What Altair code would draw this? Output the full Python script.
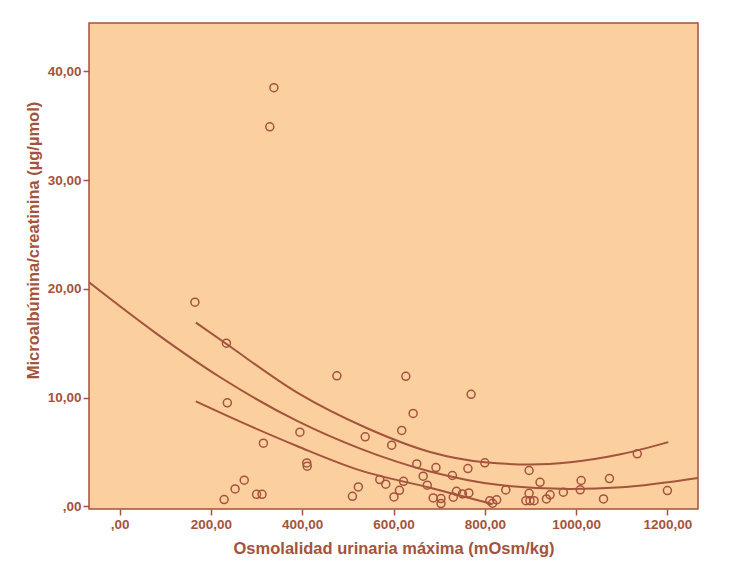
import altair as alt
import pandas as pd

BROWN = "#A4533C"
PEACH = "#FBCF9E"

# Scatter data
osm = [165, 234, 236, 315, 273, 253, 229, 300, 312, 329, 338, 395, 410, 411,
       476, 510, 523, 538, 570, 583, 596, 601, 613, 618, 622, 627, 643, 651,
       665, 674, 687, 693, 704, 704, 729, 731, 738, 751, 763, 765, 770, 800,
       811, 817, 826, 846, 890, 897, 897, 899, 908, 921, 935, 943, 972, 1009,
       1011, 1060, 1073, 1134, 1200]
mac = [18.77, 15.0, 9.52, 5.8, 2.4, 1.6, 0.62, 1.1, 1.1, 34.9, 38.5, 6.82, 3.99, 3.69,
       12.0, 0.92, 1.78, 6.39, 2.46, 2.03, 5.62, 0.86, 1.47, 6.98, 2.3, 11.95, 8.54, 3.9,
       2.77, 1.94, 0.77, 3.56, 0.71, 0.25, 2.83, 0.83, 1.38, 1.14, 3.47, 1.23, 10.3, 4.0,
       0.52, 0.28, 0.59, 1.5, 0.52, 3.29, 1.2, 0.52, 0.52, 2.2, 0.68, 1.05, 1.29, 1.51,
       2.37, 0.68, 2.55, 4.83, 1.45]

# Fitted curve and its two confidence lines
fit_x = [-67, 77, 223, 391, 527, 680, 833, 987, 1100, 1267]
fit_y = [20.6, 16.0, 11.8, 7.8, 5.3, 3.2, 1.95, 1.6, 1.75, 2.6]
up_x = [167, 235, 391, 541, 680, 800, 899, 987, 1100, 1202]
up_y = [16.9, 14.9, 10.4, 7.2, 5.0, 4.05, 3.85, 4.05, 4.8, 5.9]
lo_x = [167, 274, 391, 527, 680, 815]
lo_y = [9.65, 7.6, 5.5, 3.3, 1.7, 0.22]

x_ticks = [0, 200, 400, 600, 800, 1000, 1200]
y_ticks = [0, 10, 20, 30, 40]

pts = pd.DataFrame({"osm": osm, "mac": mac})
curves = pd.concat([
    pd.DataFrame({"osm": fit_x, "mac": fit_y, "curve": "fit"}),
    pd.DataFrame({"osm": up_x, "mac": up_y, "curve": "upper"}),
    pd.DataFrame({"osm": lo_x, "mac": lo_y, "curve": "lower"}),
])

label_expr = "datum.value == 0 ? ',00' : replace(format(datum.value, '.2f'), '.', ',')"

xs = alt.Scale(domain=[-67, 1267], nice=False, zero=False)
ys = alt.Scale(domain=[-0.25, 44.45], nice=False, zero=False)

x_axis = alt.Axis(values=x_ticks, labelExpr=label_expr,
                  title="Osmolalidad urinaria máxima (mOsm/kg)")
y_axis = alt.Axis(values=y_ticks, labelExpr=label_expr, titleY=217,
                  title="Microalbúmina/creatinina (µg/µmol)")

points = alt.Chart(pts).mark_point(
    filled=False, color=BROWN, size=64, strokeWidth=1.5, opacity=1
).encode(
    x=alt.X("osm:Q", scale=xs, axis=x_axis),
    y=alt.Y("mac:Q", scale=ys, axis=y_axis),
)

lines = alt.Chart(curves).mark_line(
    color=BROWN, strokeWidth=2, interpolate="monotone", clip=True
).encode(
    x=alt.X("osm:Q", scale=xs),
    y=alt.Y("mac:Q", scale=ys),
    detail="curve:N",
)

chart = alt.layer(lines, points).properties(
    width=609, height=486,
    autosize=alt.AutoSizeParams(type="none"),
    padding={"left": 81, "top": 15, "right": 22, "bottom": 58},
    background="white",
).configure_view(
    fill=PEACH, stroke=BROWN, strokeWidth=1.5
).configure_axis(
    grid=False, domain=False,
    tickColor=BROWN, tickWidth=1.5, tickSize=6,
    labelColor=BROWN, labelFont="Liberation Sans", labelFontWeight="bold",
    labelFontSize=13.5, labelPadding=2,
    titleColor=BROWN, titleFont="Liberation Sans", titleFontWeight="bold",
    titleFontSize=16.5,
).configure_axisX(
    titlePadding=10
).configure_axisY(
    titlePadding=6
)

chart.save("out.html", embed_options={"renderer": "svg", "actions": False})
